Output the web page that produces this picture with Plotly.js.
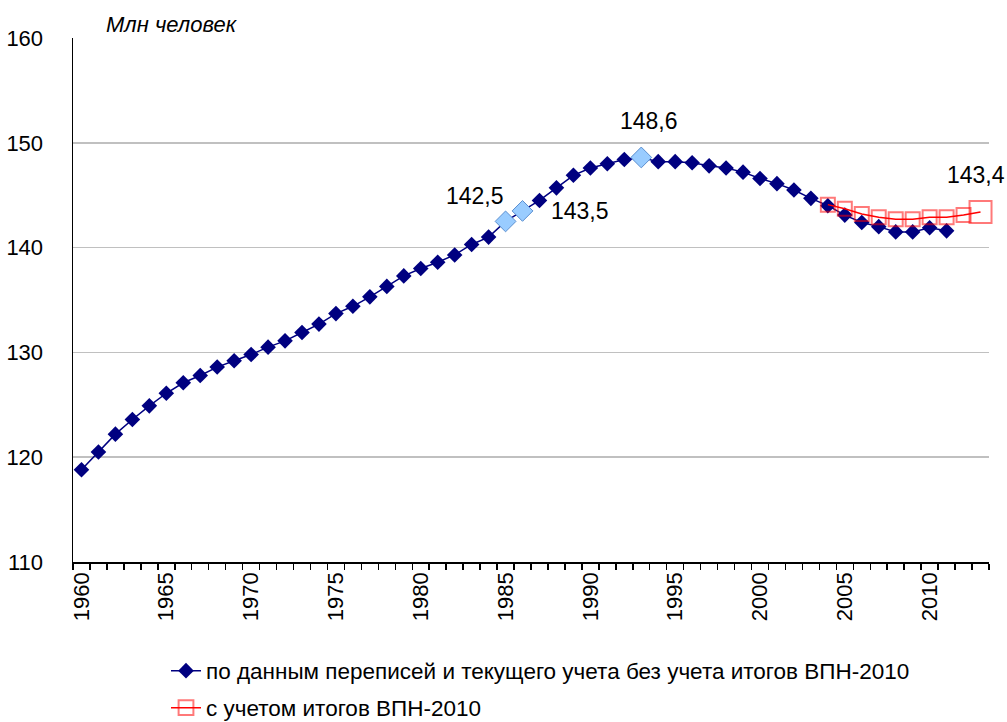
<!DOCTYPE html>
<html>
<head>
<meta charset="utf-8">
<script src="https://cdn.plot.ly/plotly-3.0.1.min.js"></script>
<style>html,body{margin:0;padding:0;background:#fff;}#chart{width:1007px;height:722px;}</style>
</head>
<body>
<div id="chart"></div>
<script>
// Series 1: по данным переписей и текущего учета (1960–2011)
const yearsBase = [1960,1961,1962,1963,1964,1965,1966,1967,1968,1969,1970,1971,1972,1973,1974,1975,1976,1977,1978,1979,1980,1981,1982,1983,1984,1985,1986,1987,1988,1989,1990,1991,1992,1993,1994,1995,1996,1997,1998,1999,2000,2001,2002,2003,2004,2005,2006,2007,2008,2009,2010,2011];
const valuesBase = [118.8,120.5,122.2,123.6,124.9,126.1,127.1,127.8,128.6,129.2,129.8,130.5,131.1,131.9,132.7,133.7,134.4,135.3,136.3,137.3,138.0,138.6,139.3,140.3,141.0,142.5,143.5,144.5,145.7,146.9,147.6,148.0,148.4,148.6,148.2,148.2,148.1,147.8,147.6,147.2,146.6,146.1,145.5,144.7,144.0,143.1,142.4,142.0,141.5,141.5,141.9,141.6];
// Series 2: с учетом итогов ВПН-2010 (2004–2013)
const yearsCensus = [2004,2005,2006,2007,2008,2009,2010,2011,2012,2013];
const valuesCensus = [144.1,143.7,143.2,142.9,142.7,142.7,142.9,142.9,143.1,143.4];
// Highlighted points with labels
const highlightYears = [1985,1986,1993];
const highlightValues = [142.5,143.5,148.6];
const highlightLabels = ["142,5","143,5","148,6"];
const lastLabel = "143,4";
const tickYears = [1960,1965,1970,1975,1980,1985,1990,1995,2000,2005,2010];
const seriesNames = ["по данным переписей и текущего учета без учета итогов ВПН-2010","с учетом итогов ВПН-2010"];

const FONT = "Liberation Sans, Arial, sans-serif";
const navy = "#000080";
const red = "#ff0000";

const nC = valuesCensus.length;
const redSizes = valuesCensus.map((v,i)=> i===nC-1 ? 22 : 14);

const traces = [
  {x: yearsBase, y: valuesBase, type:'scatter', mode:'lines+markers', name: seriesNames[0],
   line:{color:navy, width:1.5}, marker:{symbol:'diamond', size:12, color:navy}, legend:'legend', cliponaxis:false},
  {x: highlightYears, y: highlightValues, type:'scatter', mode:'markers', showlegend:false,
   marker:{symbol:'diamond', size:16, color:'#99ccff', line:{color:'#5b8fd0', width:1}}, cliponaxis:false},
  {x: yearsCensus, y: valuesCensus, type:'scatter', mode:'lines+markers', name: seriesNames[1],
   line:{color:red, width:1.5},
   marker:{symbol:'square-open', size:redSizes, color:'rgba(255,0,0,0.75)', line:{width:2}}, legend:'legend2', cliponaxis:false}
];

const shifts = [[-31,25],[57,0],[8,36]];
const annotations = highlightYears.map((yr,i)=>({
  x: yr, y: highlightValues[i], xref:'x', yref:'y', text: highlightLabels[i], showarrow:false,
  xanchor:'center', yanchor:'middle',
  xshift: shifts[i][0], yshift: shifts[i][1], font:{family:FONT, size:23, color:'#000'}
}));
annotations.push({x: yearsCensus[nC-1], y: valuesCensus[nC-1], xref:'x', yref:'y', text:lastLabel, showarrow:false,
  xanchor:'center', yanchor:'middle', xshift:-5, yshift:37, font:{family:FONT, size:23, color:'#000'}});
const L=73, R=18, T=38, B=160, W=1007, H=722;
const pw = W-L-R, ph = H-T-B;
annotations.push({x:(172-L)/pw, y:(H-B-25)/ph, xref:'paper', yref:'paper', xanchor:'center', yanchor:'middle',
  text:'<i>Млн человек</i>', showarrow:false, font:{family:FONT, size:22, color:'#000'}});

const layout = {
  width: W, height: H,
  margin:{l:L, r:R, t:T, b:B, autoexpand:false},
  paper_bgcolor:'#fff', plot_bgcolor:'#fff',
  font:{family:FONT, size:22, color:'#000'},
  showlegend:true,
  xaxis:{
    range:[1959.5,2013.5], tickvals: tickYears, ticktext: tickYears.map(String), tickangle:-90,
    ticks:'', showgrid:false, zeroline:false, showline:true, linecolor:'#000', linewidth:1.5, automargin:false,
    tickfont:{family:FONT, size:22, color:'#000'},
    minor:{tick0:1959.5, dtick:1, ticks:'outside', ticklen:6, tickcolor:'#000', tickwidth:1.5, showgrid:false}
  },
  yaxis:{
    range:[110,160], dtick:10, tick0:110, ticks:'', showgrid:true, gridcolor:'#c0c0c0', gridwidth:1.5,
    zeroline:false, showline:true, linecolor:'#000', linewidth:1.5, ticklabelstandoff:24, automargin:false,
    tickfont:{family:FONT, size:22, color:'#000'}
  },
  legend:{x:(166-L)/pw, y:(H-B-671)/ph, xanchor:'left', yanchor:'middle', orientation:'v', bgcolor:'rgba(0,0,0,0)',
    font:{family:FONT, size:22.5, color:'#000'}},
  legend2:{x:(166-L)/pw, y:(H-B-708)/ph, xanchor:'left', yanchor:'middle', orientation:'v', bgcolor:'rgba(0,0,0,0)',
    font:{family:FONT, size:22.5, color:'#000'}},
  annotations: annotations
};

Plotly.newPlot('chart', traces, layout, {displayModeBar:false, staticPlot:true});
</script>
</body>
</html>
